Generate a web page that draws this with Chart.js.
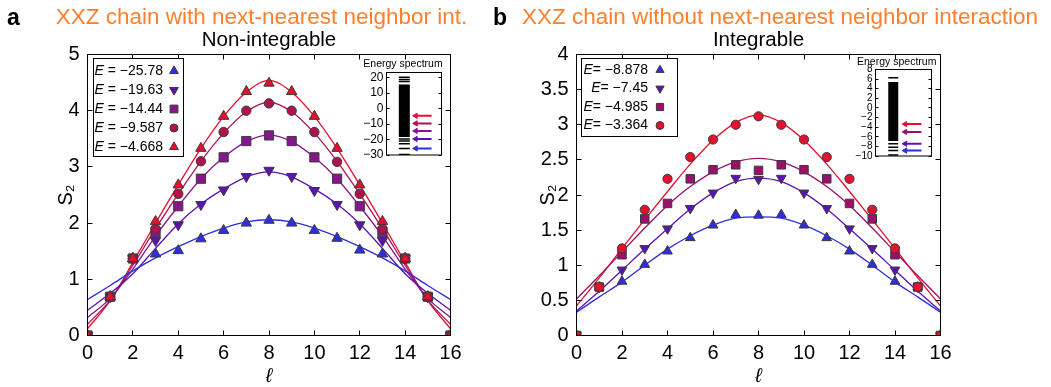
<!DOCTYPE html>
<html><head><meta charset="utf-8">
<script src="https://cdn.jsdelivr.net/npm/chart.js@4/dist/chart.umd.min.js"></script>
<style>
html,body{margin:0;padding:0;background:#fff;}
body{width:1051px;height:387px;position:relative;overflow:hidden;}
canvas{position:absolute;display:block;}
</style></head><body>
<canvas id="ca" width="480" height="387" style="left:0;top:0;width:480px;height:387px"></canvas>
<canvas id="cb" width="571" height="387" style="left:480px;top:0;width:571px;height:387px"></canvas>
<canvas id="ia" width="100" height="112" style="left:350px;top:52px;width:100px;height:112px"></canvas>
<canvas id="ib" width="100" height="112" style="left:838px;top:52px;width:100px;height:112px"></canvas>
<script>
const FONT = '"Liberation Sans", Arial, Helvetica, sans-serif';

// ---------- shared ----------
const ell = [0,1,2,3,4,5,6,7,8,9,10,11,12,13,14,15,16];
const xTickVals = [0,2,4,6,8,10,12,14,16];

// ---------- panel a (non-integrable) ----------
const aLetter = 'a';
const aTitle = 'XXZ chain with next-nearest neighbor int.';
const aSub = 'Non-integrable';
const aYTicks = [0,1,2,3,4,5];
const aLabels = ['\u221225.78','\u221219.63','\u221214.44','\u22129.587','\u22124.668'];
const aEnergy = [-25.78,-19.63,-14.44,-9.587,-4.668];
const aPts1 = [0,0.69,1.37,1.45,1.51,1.72,1.87,2.00,2.05,2.00,1.87,1.73,1.52,1.45,1.37,0.69,0];
const aPts2 = [0,0.69,1.37,1.69,1.97,2.33,2.59,2.83,2.94,2.83,2.58,2.33,1.97,1.69,1.37,0.69,0];
const aPts3 = [0,0.69,1.37,1.84,2.30,2.79,3.17,3.46,3.56,3.46,3.17,2.79,2.30,1.84,1.37,0.69,0];
const aPts4 = [0,0.69,1.37,1.90,2.52,3.10,3.62,4.00,4.13,4.00,3.62,3.09,2.52,1.90,1.37,0.69,0];
const aPts5 = [0,0.69,1.37,2.03,2.68,3.33,3.90,4.34,4.49,4.34,3.90,3.33,2.68,2.03,1.37,0.69,0];
const aFit1 = [0.64,0.89,1.15,1.38,1.58,1.76,1.91,2.02,2.06,2.02,1.91,1.76,1.58,1.38,1.15,0.89,0.64];
const aFit2 = [0.45,0.75,1.10,1.55,1.99,2.34,2.61,2.82,2.91,2.82,2.61,2.34,1.99,1.55,1.10,0.75,0.45];
const aFit3 = [0.32,0.66,1.18,1.77,2.30,2.79,3.17,3.45,3.57,3.45,3.17,2.79,2.30,1.77,1.18,0.66,0.32];
const aFit4 = [0.20,0.63,1.25,1.90,2.52,3.10,3.60,3.98,4.15,3.98,3.60,3.10,2.52,1.90,1.25,0.63,0.20];
const aFit5 = [0.12,0.62,1.30,2.00,2.68,3.33,3.90,4.33,4.54,4.33,3.90,3.33,2.68,2.00,1.30,0.62,0.12];
const aSpecTicks = [-30,-20,-10,0,10,20];
const aSpecBand = [-18.3, 15.5];
const aSpecLevels = [20.2, 18.8, 17.5, -19.6, -21.0, -22.8, -25.78, -29.6];

// ---------- panel b (integrable) ----------
const bLetter = 'b';
const bTitle = 'XXZ chain without next-nearest neighbor interaction';
const bSub = 'Integrable';
const bYTicks = [0,0.5,1,1.5,2,2.5,3,3.5,4];
const bLabels = ['\u22128.878','\u22127.45','\u22124.985','\u22123.364'];
const bEnergy = [-8.878,-7.45,-4.985,-3.364];
const bPts1 = [0,0.69,0.77,1.01,1.20,1.39,1.57,1.72,1.71,1.72,1.57,1.39,1.20,1.01,0.77,0.69,0];
const bPts2 = [0,0.69,0.935,1.24,1.52,1.81,2.03,2.24,2.225,2.24,2.03,1.81,1.52,1.24,0.935,0.69,0];
const bPts3 = [0,0.69,1.15,1.66,1.88,2.23,2.36,2.43,2.35,2.43,2.36,2.23,1.88,1.66,1.15,0.69,0];
const bPts4 = [0,0.69,1.24,1.79,2.23,2.54,2.79,3.00,3.12,3.00,2.79,2.54,2.23,1.79,1.24,0.69,0];
const bFit1 = [0.33,0.55,0.76,1.00,1.23,1.42,1.57,1.67,1.69,1.67,1.57,1.42,1.23,1.00,0.76,0.55,0.33];
const bFit2 = [0.35,0.63,0.93,1.23,1.52,1.80,2.03,2.19,2.24,2.19,2.03,1.80,1.52,1.23,0.93,0.63,0.35];
const bFit3 = [0.52,0.85,1.19,1.53,1.85,2.12,2.33,2.47,2.52,2.47,2.33,2.12,1.85,1.53,1.19,0.85,0.52];
const bFit4 = [0.42,0.82,1.24,1.65,2.05,2.44,2.78,3.03,3.14,3.03,2.78,2.44,2.05,1.65,1.24,0.82,0.42];
const bSpecTicks = [-10,-8,-6,-4,-2,0,2,4,6,8];
const bSpecBand = [-6.9, 5.4];
const bSpecLevels = [6.3, -7.45, -8.2, -8.878, -9.8];

// ---------- styling ----------
const aColors = ['#2e2ee0','#5c12b4','#85168c','#b0124e','#e4102e'];
const aStyles = ['triangle','triangle','rect','circle','triangle'];
const aRots   = [0,180,0,0,0];
const aRadii  = [6,6,6.5,4.7,6];
const bColors = ['#2e2ee0','#5c12b4','#9c0f6c','#e4102e'];
const bStyles = ['triangle','triangle','rect','circle'];
const bRots   = [0,180,0,0];
const bRadii  = [5.6,5.6,6,4.6];
const MINUS = v => String(v).replace('-', '\u2212');

function drawMarker(ctx, style, rot, r, x, y, fill) {
  ctx.save();
  ctx.fillStyle = fill; ctx.strokeStyle = '#3a3a3a'; ctx.lineWidth = 1;
  if (Chart.helpers && Chart.helpers.drawPoint) {
    Chart.helpers.drawPoint(ctx, {pointStyle: style, rotation: rot, radius: r, borderWidth: 1}, x, y);
  } else {
    ctx.beginPath(); ctx.arc(x, y, r, 0, Math.PI*2); ctx.fill(); ctx.stroke();
  }
  ctx.restore();
}

const frameTicks = {
  id: 'frameTicks',
  afterDatasetsDraw(chart, args, o) {
    const {ctx, chartArea: a, scales} = chart;
    const L = o.len;
    ctx.save();
    ctx.strokeStyle = '#000'; ctx.lineWidth = 1;
    ctx.beginPath();
    if (o.xTicks) {
      scales.x.ticks.forEach(t => {
        const p = Math.round(scales.x.getPixelForValue(t.value) - 0.5) + 0.5;
        ctx.moveTo(p, a.bottom); ctx.lineTo(p, a.bottom - L);
        ctx.moveTo(p, a.top); ctx.lineTo(p, a.top + L);
      });
    }
    scales.y.ticks.forEach(t => {
      const p = Math.round(scales.y.getPixelForValue(t.value) - 0.5) + 0.5;
      ctx.moveTo(a.left, p); ctx.lineTo(a.left + L, p);
      ctx.moveTo(a.right, p); ctx.lineTo(a.right - L, p);
    });
    ctx.stroke();
    ctx.strokeRect(a.left, a.top, a.right - a.left, a.bottom - a.top);
    ctx.restore();
  }
};

const panelText = {
  id: 'panelText',
  afterDraw(chart, args, o) {
    const ctx = chart.ctx, a = chart.chartArea;
    ctx.save();
    ctx.textBaseline = 'alphabetic';
    ctx.fillStyle = '#000'; ctx.font = 'bold 23px ' + FONT; ctx.textAlign = 'left';
    ctx.fillText(o.letter, o.letterX, 25);
    ctx.fillStyle = '#ff7f2a'; ctx.font = '22.5px ' + FONT; ctx.textAlign = 'center';
    ctx.fillText(o.title, o.titleX, 24, o.titleW);
    ctx.fillStyle = '#000'; ctx.font = '20.5px ' + FONT;
    ctx.fillText(o.sub, (a.left + a.right) / 2, 46);
    ctx.restore();
  }
};

const seriesLegend = {
  id: 'seriesLegend',
  afterDraw(chart, args, o) {
    const ctx = chart.ctx;
    ctx.save();
    ctx.fillStyle = '#fff'; ctx.strokeStyle = '#000'; ctx.lineWidth = 1;
    ctx.fillRect(o.box[0], o.box[1], o.box[2]-o.box[0], o.box[3]-o.box[1]);
    ctx.strokeRect(o.box[0], o.box[1], o.box[2]-o.box[0], o.box[3]-o.box[1]);
    ctx.textBaseline = 'middle'; ctx.textAlign = 'right'; ctx.fillStyle = '#000';
    o.labels.forEach((lab, i) => {
      const y = o.rows[i];
      const rest = o.eq + lab;
      ctx.font = '14px ' + FONT;
      const w = ctx.measureText(rest).width;
      ctx.fillText(rest, o.textRight, y);
      ctx.font = 'italic 14px ' + FONT;
      ctx.fillText('E', o.textRight - w, y);
      drawMarker(ctx, o.styles[i], o.rots[i], o.radii[i] * 0.85, o.markerX, y, o.colors[i]);
    });
    ctx.restore();
  }
};

const insetText = {
  id: 'insetText',
  afterDraw(chart, args, o) {
    const ctx = chart.ctx;
    ctx.save();
    ctx.fillStyle = '#000'; ctx.font = '10.5px ' + FONT;
    ctx.textAlign = 'center'; ctx.textBaseline = 'alphabetic';
    ctx.fillText('Energy spectrum', o.x, o.y);
    ctx.restore();
  }
};

function mainChart(id, o) {
  const datasets = [];
  o.fits.forEach((f, i) => datasets.push({
    type: 'line', data: ell.map((x, j) => ({x, y: f[j]})),
    borderColor: o.colors[i], borderWidth: 1.3, pointRadius: 0,
    cubicInterpolationMode: 'monotone', fill: false, order: 20
  }));
  o.pts.forEach((p, i) => datasets.push({
    type: 'line', showLine: false, data: ell.map((x, j) => ({x, y: p[j]})),
    pointStyle: o.styles[i], rotation: o.rots[i], pointRadius: o.radii[i],
    pointBackgroundColor: o.colors[i], pointBorderColor: '#3a3a3a', pointBorderWidth: 1,
    clip: 0, order: o.pts.length - i
  }));
  return new Chart(document.getElementById(id), {
    type: 'scatter',
    data: {datasets},
    plugins: [frameTicks, panelText, seriesLegend],
    options: {
      responsive: false, animation: false, events: [],
      layout: {padding: {left: 0, top: 54.5, right: o.padRight, bottom: 0}},
      plugins: {
        legend: {display: false}, tooltip: {enabled: false},
        frameTicks: {len: 5, xTicks: true},
        panelText: {letter: o.letter, letterX: o.letterX, title: o.title, titleX: o.titleX, titleW: o.titleW, sub: o.sub},
        seriesLegend: o.legend
      },
      scales: {
        x: {
          type: 'linear', min: 0, max: 16,
          afterBuildTicks: s => { s.ticks = xTickVals.map(v => ({value: v})); },
          grid: {display: false, drawTicks: false}, border: {display: false},
          ticks: {font: {family: FONT, size: 20}, color: '#000', padding: 6, maxRotation: 0, autoSkip: false, callback: v => String(v)},
          title: {display: true, text: '\u2113', color: '#000', font: {family: FONT, size: 20, style: 'italic', lineHeight: 1}, padding: {top: 0, bottom: 1}},
          afterFit: s => { s.height = 51.5; }
        },
        y: {
          type: 'linear', min: o.yTicks[0], max: o.yTicks[o.yTicks.length - 1],
          afterBuildTicks: s => { s.ticks = o.yTicks.map(v => ({value: v})); },
          grid: {display: false, drawTicks: false}, border: {display: false},
          ticks: {font: {family: FONT, size: 20}, color: '#000', padding: 8, autoSkip: false, callback: v => String(v)},
          title: {display: true, text: 'S\u2082', color: '#000', font: {family: FONT, size: 20, lineHeight: 1.2}, padding: {top: o.yTitlePad, bottom: 0}},
          afterFit: s => { s.width = o.yAxisW; }
        }
      }
    }
  });
}

function insetChart(id, o) {
  const datasets = [];
  datasets.push({type: 'line', data: [{x: o.bx, y: o.band[0]}, {x: o.bx, y: o.band[1]}],
    borderColor: '#000', borderWidth: o.bw, borderCapStyle: 'butt', pointRadius: 0});
  datasets.push({type: 'line', showLine: false, data: o.levels.map(v => ({x: o.bx, y: v})),
    pointStyle: 'line', pointRadius: o.bw / 2, pointBorderColor: '#000', pointBorderWidth: 1.5});
  o.energy.forEach((E, i) => datasets.push({
    type: 'line', data: [{x: 5.3, y: E}, {x: 8.2, y: E}],
    borderColor: o.colors[i], borderWidth: 2, pointStyle: 'triangle', rotation: -90,
    pointRadius: [3, 0], pointBackgroundColor: o.colors[i], pointBorderColor: o.colors[i], pointBorderWidth: 1
  }));
  return new Chart(document.getElementById(id), {
    type: 'scatter',
    data: {datasets},
    plugins: [frameTicks, insetText],
    options: {
      responsive: false, animation: false, events: [],
      layout: {padding: o.pad},
      plugins: {legend: {display: false}, tooltip: {enabled: false},
        frameTicks: {len: 3, xTicks: false}, insetText: o.text},
      scales: {
        x: {type: 'linear', min: 0, max: 10, display: false},
        y: {
          type: 'linear', min: o.min, max: o.max,
          afterBuildTicks: s => { s.ticks = o.ticks.map(v => ({value: v})); },
          grid: {display: false, drawTicks: false}, border: {display: false},
          ticks: {font: {family: FONT, size: o.fs, lineHeight: 1}, color: '#000', padding: 3, autoSkip: false, callback: v => MINUS(v)},
          afterFit: s => { s.width = o.yw; }
        }
      }
    }
  });
}

mainChart('ca', {
  letter: aLetter, letterX: 7, title: aTitle, titleX: 261.5, titleW: 417, sub: aSub,
  padRight: 29.5, yAxisW: 87.5, yTitlePad: 54, yTicks: aYTicks,
  fits: [aFit1, aFit2, aFit3, aFit4, aFit5], pts: [aPts1, aPts2, aPts3, aPts4, aPts5],
  colors: aColors, styles: aStyles, rots: aRots, radii: aRadii,
  legend: {box: [93.5, 58.5, 183.5, 156.5], rows: [71, 90, 109, 128, 147], textRight: 163, markerX: 174,
    eq: ' = ', labels: aLabels, colors: aColors, styles: aStyles, rots: aRots, radii: aRadii}
});
mainChart('cb', {
  letter: bLetter, letterX: 13, title: bTitle, titleX: 300, titleW: 516, sub: bSub,
  padRight: 110.5, yAxisW: 96.5, yTitlePad: 56, yTicks: bYTicks,
  fits: [bFit1, bFit2, bFit3, bFit4], pts: [bPts1, bPts2, bPts3, bPts4],
  colors: bColors, styles: bStyles, rots: bRots, radii: bRadii,
  legend: {box: [101.5, 58.5, 197.5, 136.5], rows: [70, 88.5, 107, 125.5], textRight: 168, markerX: 180,
    eq: '= ', labels: bLabels, colors: bColors, styles: bStyles, rots: bRots, radii: bRadii}
});
insetChart('ia', {
  min: -30, max: 23.3, ticks: aSpecTicks, fs: 12, yw: 36.5,
  pad: {left: 0, top: 20.5, right: 8.5, bottom: 4.5},
  band: aSpecBand, levels: aSpecLevels, bx: 3.24, bw: 11,
  energy: aEnergy, colors: aColors, text: {x: 53, y: 14.5}
});
insetChart('ib', {
  min: -10, max: 8, ticks: bSpecTicks, fs: 10, yw: 37.5,
  pad: {left: 0, top: 17.5, right: 6.5, bottom: 4.5},
  band: bSpecBand, levels: bSpecLevels, bx: 3.17, bw: 10,
  energy: bEnergy, colors: bColors, text: {x: 58.7, y: 12.5}
});
</script>
</body></html>
